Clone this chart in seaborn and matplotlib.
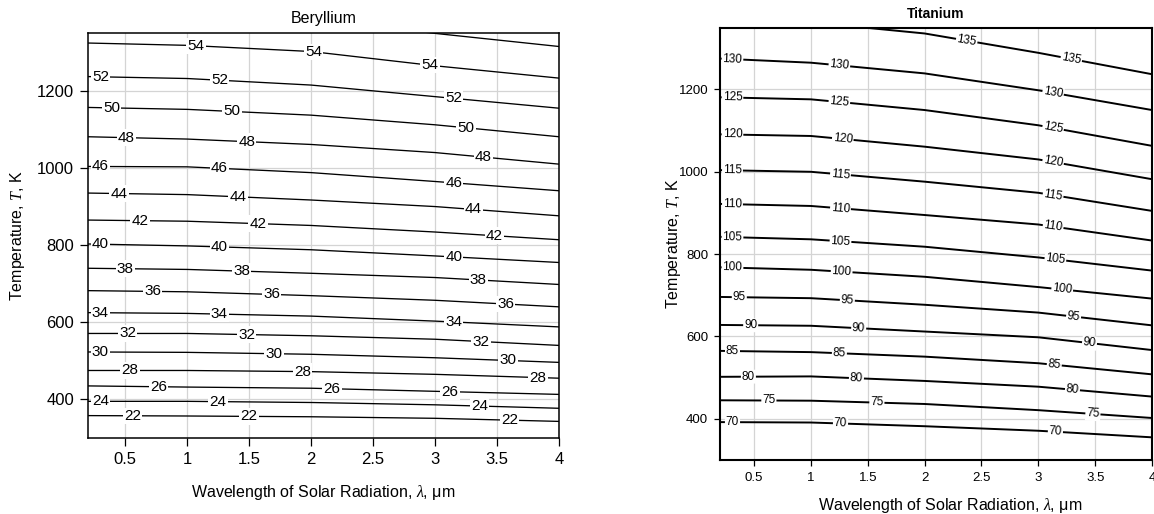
# plot.py
# Equilibrium temperature contours - Beryllium vs Titanium

import numpy as np
import pandas as pd
import matplotlib
matplotlib.use("Agg")
import matplotlib.pyplot as plt
from matplotlib.ticker import FuncFormatter
import seaborn as sns

# -------------------------
# Data
# -------------------------
# wavelength columns where each curve was read, um
LAM = [0.2, 1.0, 2.0, 3.0, 4.0]

# Beryllium: level values and temperature (K) of each level at every LAM column
BE_LEVELS = [22, 24, 26, 28, 30, 32, 34, 36, 38, 40, 42, 44, 46, 48, 50, 52, 54, 56]
BE_T_L02 = [358, 395, 435, 475, 523, 571, 625, 682, 740, 803, 865, 935, 1004, 1081, 1157, 1237, 1324, 1409]
BE_T_L1 = [357, 395, 432, 475, 522, 571, 623, 679, 737, 798, 862, 931, 1003, 1075, 1152, 1232, 1318, 1404]
BE_T_L2 = [355, 392, 429, 472, 517, 565, 616, 669, 727, 788, 851, 917, 988, 1061, 1137, 1215, 1302, 1387]
BE_T_L3 = [351, 386, 421, 465, 508, 556, 603, 657, 716, 772, 834, 900, 965, 1040, 1112, 1185, 1265, 1349]
BE_T_L4 = [343, 377, 413, 455, 496, 540, 588, 640, 698, 755, 814, 876, 941, 1010, 1081, 1155, 1233, 1315]

# Titanium
TI_LEVELS = [70, 75, 80, 85, 90, 95, 100, 105, 110, 115, 120, 125, 130, 135]
TI_T_L02 = [392, 445, 502, 565, 628, 696, 768, 842, 922, 1004, 1091, 1181, 1275, 1372]
TI_T_L1 = [391, 444, 503, 562, 626, 693, 762, 836, 917, 1000, 1087, 1176, 1265, 1363]
TI_T_L2 = [382, 436, 492, 551, 612, 677, 745, 818, 895, 976, 1061, 1150, 1239, 1336]
TI_T_L3 = [371, 421, 478, 535, 598, 658, 720, 792, 872, 949, 1030, 1113, 1198, 1289]
TI_T_L4 = [355, 402, 454, 508, 567, 627, 692, 760, 833, 905, 982, 1063, 1150, 1237]

# where the inline labels sit along each curve (wavelength)
BE_LABEL_LAM = {
    54: [1.07, 2.02, 2.96], 52: [0.30, 1.26, 3.15], 50: [0.39, 1.36, 3.25],
    48: [0.51, 1.48, 3.39], 46: [0.30, 1.26, 3.15], 44: [0.45, 1.41, 3.31],
    42: [0.62, 1.57, 3.48], 40: [0.30, 1.26, 3.15], 38: [0.50, 1.44, 3.35],
    36: [0.72, 1.68, 3.57], 34: [0.30, 1.26, 3.15], 32: [0.52, 1.48, 3.37],
    30: [0.30, 1.70, 3.59], 28: [0.54, 1.93, 3.83], 26: [0.77, 2.17, 3.12],
    24: [0.30, 1.25, 3.36], 22: [0.56, 1.50, 3.60],
}
TI_LABEL_LAM = {
    135: [2.37, 3.29], 130: [0.31, 1.25, 3.13], 125: [0.31, 1.25, 3.13],
    120: [0.31, 1.28, 3.13], 115: [0.31, 1.26, 3.13], 110: [0.31, 1.26, 3.13],
    105: [0.31, 1.26, 3.15], 100: [0.31, 1.27, 3.21], 95: [0.37, 1.32, 3.31],
    90: [0.47, 1.42, 3.45], 85: [0.31, 1.25, 3.14], 80: [0.45, 1.40, 3.30],
    75: [0.63, 1.58, 3.48], 70: [0.31, 1.26, 3.15],
}


def long_table(levels, cols):
    rows = []
    for i, lev in enumerate(levels):
        for lam, col in zip(LAM, cols):
            rows.append((lev, lam, col[i]))
    return pd.DataFrame(rows, columns=["level", "lam", "T"])


def add_labels(ax, levels, cols, label_lam, size, rotate):
    for i, lev in enumerate(levels):
        t_line = [c[i] for c in cols]
        for lam in label_lam.get(lev, []):
            t = np.interp(lam, LAM, t_line)
            ang = 0.0
            if rotate:
                p1 = ax.transData.transform((lam - 0.1, np.interp(lam - 0.1, LAM, t_line)))
                p2 = ax.transData.transform((lam + 0.1, np.interp(lam + 0.1, LAM, t_line)))
                ang = np.degrees(np.arctan2(p2[1] - p1[1], p2[0] - p1[0]))
            ax.text(lam, t, str(lev), ha="center", va="center", fontsize=size,
                    color="black", rotation=ang, rotation_mode="anchor", zorder=5,
                    bbox=dict(boxstyle="square,pad=0.08", fc="white", ec="none"))


# -------------------------
# Style
# -------------------------
sns.set_style("whitegrid")
plt.rcParams["font.family"] = ["Liberation Sans", "DejaVu Sans"]
plt.rcParams["mathtext.fontset"] = "custom"
plt.rcParams["mathtext.rm"] = "Liberation Sans"
plt.rcParams["mathtext.it"] = "Liberation Serif:italic"
plt.rcParams["text.color"] = "black"
plt.rcParams["axes.labelcolor"] = "black"
plt.rcParams["xtick.color"] = "black"
plt.rcParams["ytick.color"] = "black"

fig = plt.figure(figsize=(11.54, 5.14), dpi=100)
ax1 = fig.add_axes([0.0763, 0.1479, 0.4081, 0.7879])
ax2 = fig.add_axes([0.6239, 0.1051, 0.3744, 0.8410])

XLABEL = "Wavelength of Solar Radiation, $\\lambda$, \u03bcm"
YLABEL = "Temperature, $\\mathit{T}$, K"

panels = [
    (ax1, "Beryllium", BE_LEVELS, [BE_T_L02, BE_T_L1, BE_T_L2, BE_T_L3, BE_T_L4],
     BE_LABEL_LAM, dict(lw=0.95, spine=1.1, tick=12, clab=11, title_w="normal",
                        title_size=11.5, tlen=6, rotate=False)),
    (ax2, "Titanium", TI_LEVELS, [TI_T_L02, TI_T_L1, TI_T_L2, TI_T_L3, TI_T_L4],
     TI_LABEL_LAM, dict(lw=1.4, spine=1.5, tick=9.5, clab=8.5, title_w="bold",
                        title_size=10, tlen=4.5, rotate=True)),
]

for ax, title, levels, cols, label_lam, st in panels:
    df = long_table(levels, cols)
    sns.lineplot(data=df, x="lam", y="T", units="level", estimator=None,
                 color="black", lw=st["lw"], legend=False, ax=ax, zorder=3)
    ax.set_xlim(0.2, 4)
    ax.set_ylim(300, 1350)
    ax.set_xticks([0.5, 1, 1.5, 2, 2.5, 3, 3.5, 4])
    ax.set_yticks([400, 600, 800, 1000, 1200])
    ax.xaxis.set_major_formatter(FuncFormatter(lambda v, p: f"{v:g}"))
    ax.grid(True, color="#d4d4d4", lw=0.9)
    for s in ax.spines.values():
        s.set_color("black")
        s.set_linewidth(st["spine"])
    ax.tick_params(axis="both", which="major", bottom=True, left=True,
                   direction="out", length=st["tlen"], width=0.9,
                   color="black", labelcolor="black", labelsize=st["tick"], pad=4)
    ax.set_title(title, fontsize=st["title_size"], fontweight=st["title_w"],
                 color="black", pad=7)
    ax.set_xlabel(XLABEL, fontsize=11.5, color="black")
    ax.set_ylabel(YLABEL, fontsize=11.5, color="black")
    add_labels(ax, levels, cols, label_lam, st["clab"], st["rotate"])

ax1.xaxis.set_label_coords(0.5, -0.11)
ax1.yaxis.set_label_coords(-0.13, 0.5)
ax2.xaxis.set_label_coords(0.532, -0.083)
ax2.yaxis.set_label_coords(-0.085, 0.5)

fig.savefig("out.png", dpi=100)
